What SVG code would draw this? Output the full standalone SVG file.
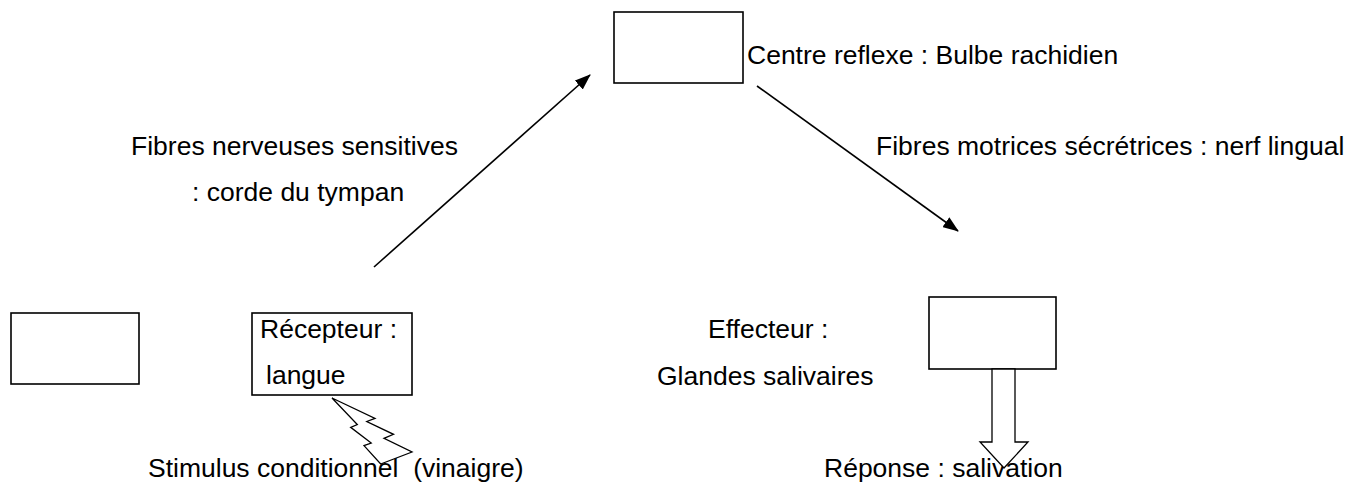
<svg xmlns="http://www.w3.org/2000/svg" width="1357" height="484" viewBox="0 0 1357 484">
<style>
.box{fill:#fff;stroke:#000;stroke-width:1.6}
.t{font-family:"Liberation Sans",Arial,sans-serif;font-size:26.5px;fill:#000}
.con{stroke:#000;stroke-width:1.6;fill:none}
.shape{fill:#fff;stroke:#000;stroke-width:1.3;stroke-linejoin:miter}
</style>
<defs>
<marker id="ah" markerWidth="16" markerHeight="12" refX="15" refY="6" orient="auto" markerUnits="userSpaceOnUse">
<path d="M0,0 L16,6 L0,12 Z" fill="#000"/>
</marker>
</defs>
<rect width="1357" height="484" fill="#fff"/>
<g id="connectors">
<line class="con" x1="374" y1="267" x2="590" y2="75" marker-end="url(#ah)"/>
<line class="con" x1="757" y1="86" x2="958" y2="231" marker-end="url(#ah)"/>
</g>
<g id="node-centre">
<rect class="box" x="614" y="12" width="129" height="71"/>
<text class="t" x="747" y="64">Centre reflexe : Bulbe rachidien</text>
</g>
<g id="label-sensitives">
<text class="t" x="131" y="155">Fibres nerveuses sensitives</text>
<text class="t" x="192" y="201">: corde du tympan</text>
</g>
<g id="label-motrices">
<text class="t" x="876" y="155">Fibres motrices sécrétrices : nerf lingual</text>
</g>
<g id="node-empty-left">
<rect class="box" x="11" y="313" width="128" height="71"/>
</g>
<g id="node-recepteur">
<rect class="box" x="252" y="313" width="160" height="82"/>
<text class="t" x="260" y="338">Récepteur :</text>
<text class="t" x="266" y="384">langue</text>
</g>
<g id="node-effecteur-label">
<text class="t" x="708" y="338">Effecteur :</text>
<text class="t" x="657" y="385">Glandes salivaires</text>
</g>
<g id="node-effecteur">
<rect class="box" x="929" y="297" width="127" height="72"/>
</g>
<g id="stimulus">
<text class="t" x="148" y="477" xml:space="preserve">Stimulus conditionnel  (vinaigre)</text>
<polygon class="shape" points="380.7,464 412,452 384,438.3 393.5,434.3 366.8,421.5 375,418.4 332,398 357.3,424.6 350.7,427.3 371.2,443.1 364,445.6"/>
</g>
<g id="reponse">
<text class="t" x="824" y="477">Réponse : salivation</text>
<polygon class="shape" points="992,369 1015,369 1015,442 1028,442 1004,468 980,442 992,442"/>
</g>
</svg>
